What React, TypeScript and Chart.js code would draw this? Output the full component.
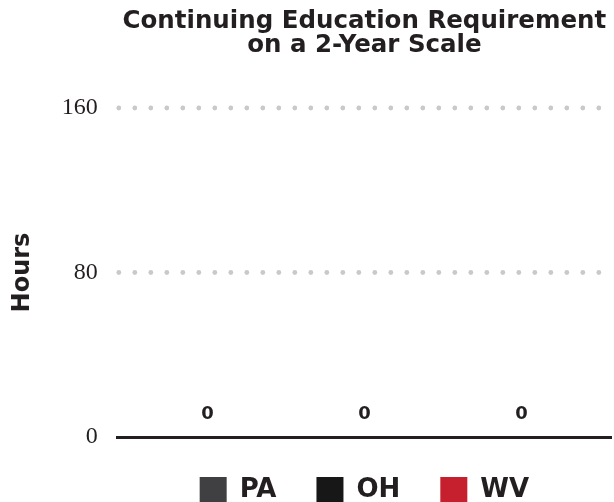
import React, { useEffect, useRef } from "react";
import { Chart, registerables } from "chart.js";

Chart.register(...registerables);

const categories = [""];
const seriesNames = ["PA", "OH", "WV"];
const seriesValues = [[0], [0], [0]];
const seriesColors = ["#403f41", "#171717", "#c61f2d"];
const yTicks = [0, 80, 160];
const titleLines = ["Continuing Education Requirement", "on a 2-Year Scale"];
const yTitle = "Hours";

const TEXT = "#231f20";
const SANS = "'DejaVu Sans', sans-serif";
const SERIF = "'Liberation Serif', serif";

const dotGrid = {
  id: "dotGrid",
  beforeDatasetsDraw(chart: any) {
    const { ctx, chartArea, scales } = chart;
    const y = scales.y;
    ctx.save();
    ctx.fillStyle = "#c9c9cb";
    for (const t of yTicks) {
      if (t === 0) continue;
      const py = y.getPixelForValue(t);
      for (let px = chartArea.left + 1; px <= chartArea.right; px += 16) {
        ctx.beginPath();
        ctx.arc(px, py, 2.4, 0, Math.PI * 2);
        ctx.fill();
      }
    }
    ctx.restore();
  },
};

const valueLabels = {
  id: "valueLabels",
  afterDatasetsDraw(chart: any) {
    const { ctx } = chart;
    ctx.save();
    ctx.fillStyle = TEXT;
    ctx.font = `bold 18px ${SANS}`;
    ctx.textAlign = "center";
    ctx.textBaseline = "bottom";
    chart.data.datasets.forEach((ds: any, i: number) => {
      const meta = chart.getDatasetMeta(i);
      meta.data.forEach((el: any, j: number) => {
        ctx.fillText(String(ds.data[j]), el.x, el.y - 14);
      });
    });
    ctx.restore();
  },
};

export default function App() {
  const ref = useRef<HTMLCanvasElement>(null);
  useEffect(() => {
    document.body.style.margin = "0";
    const chart = new Chart(ref.current!, {
      type: "bar",
      data: {
        labels: categories,
        datasets: seriesNames.map((n, i) => ({
          label: n,
          data: seriesValues[i],
          backgroundColor: seriesColors[i],
          borderWidth: 0,
          categoryPercentage: 0.955,
          barPercentage: 1,
        })),
      },
      options: {
        responsive: false,
        animation: false,
        layout: { padding: { left: 0, right: 3, top: 0, bottom: 0 } },
        plugins: {
          tooltip: { enabled: false },
          title: {
            display: true,
            text: titleLines,
            fullSize: false,
            color: TEXT,
            font: { family: SANS, size: 24.5, weight: "bold", lineHeight: 0.98 },
            padding: { top: 10, bottom: 50 },
          },
          legend: {
            position: "bottom",
            fullSize: false,
            labels: {
              color: TEXT,
              boxWidth: 27,
              boxHeight: 27,
              padding: 40,
              font: { family: SANS, size: 26, weight: "bold" },
            },
          },
        },
        scales: {
          x: {
            grid: { display: false, drawTicks: false },
            ticks: { display: false },
            border: { display: true, color: "#231f20", width: 3 },
          },
          y: {
            min: 0,
            max: 160,
            afterBuildTicks: (axis: any) => {
              axis.ticks = yTicks.map((v) => ({ value: v }));
            },
            grid: { display: false, drawTicks: false },
            border: { display: false },
            ticks: {
              color: TEXT,
              padding: 20,
              font: { family: SERIF, size: 24 },
            },
            title: {
              display: true,
              text: yTitle,
              color: TEXT,
              font: { family: SANS, size: 24, weight: "bold" },
              padding: { top: 8, bottom: 5 },
            },
          },
        },
      },
      plugins: [dotGrid, valueLabels],
    });
    return () => chart.destroy();
  }, []);
  return (
    <div style={{ width: 614, height: 502, overflow: "hidden" }}>
      <canvas ref={ref} width={614} height={514} style={{ display: "block" }} />
    </div>
  );
}
